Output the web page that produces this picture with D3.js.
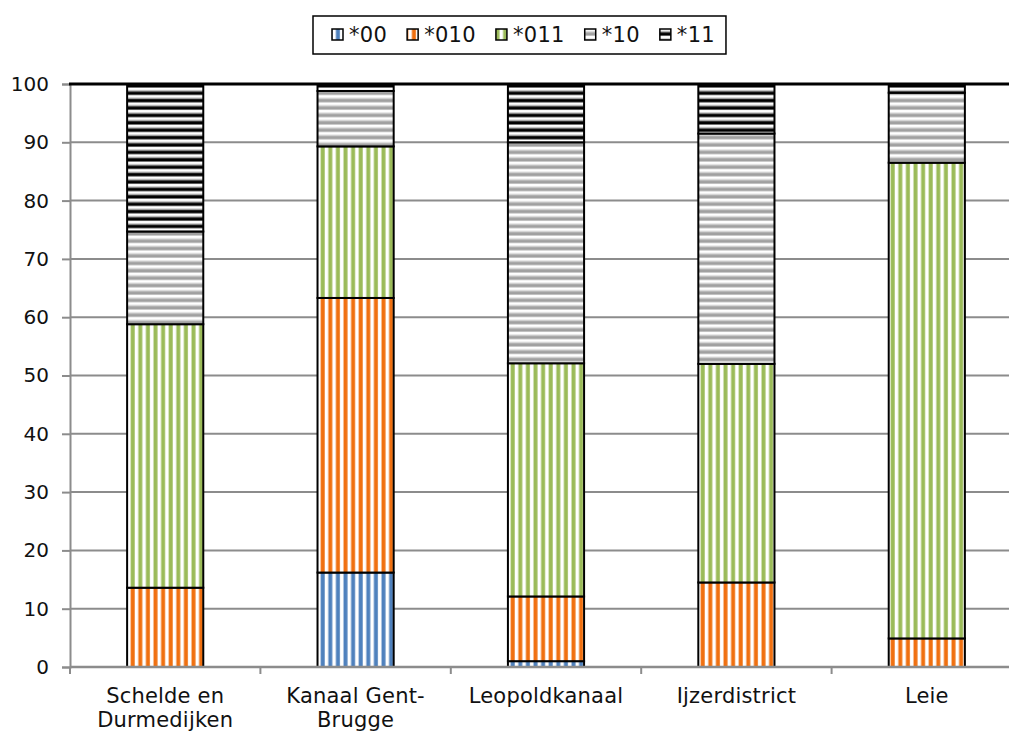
<!DOCTYPE html>
<html>
<head>
<meta charset="utf-8">
<script src="https://cdn.jsdelivr.net/npm/d3@7"></script>
<style>
  html, body { margin: 0; padding: 0; background: #fff; }
  svg { display: block; font-family: "DejaVu Sans", Verdana, sans-serif; }
</style>
</head>
<body>
<svg id="chart" width="1009" height="731"></svg>
<script>
// Category labels (line breaks marked with \n)
const categories = ["Schelde en\nDurmedijken", "Kanaal Gent-\nBrugge", "Leopoldkanaal", "Ijzerdistrict", "Leie"];
// Series keys, in stacking order from bottom to top
const seriesKeys = ["*00", "*010", "*011", "*10", "*11"];
// Share (%) of each series per category
const s00  = [0,    16.2, 1.0,  0,    0];
const s010 = [13.6, 47.1, 11.1, 14.5, 4.9];
const s011 = [45.2, 26.0, 40.0, 37.5, 81.6];
const s10  = [15.9, 9.5,  37.9, 39.5, 12.0];
const s11  = [25.3, 1.2,  10.0, 8.5,  1.5];
const yTicks = [0, 10, 20, 30, 40, 50, 60, 70, 80, 90, 100];

const seriesValues = [s00, s010, s011, s10, s11];
const rows = categories.map((c, i) => {
  const r = { cat: c };
  seriesKeys.forEach((k, j) => r[k] = seriesValues[j][i]);
  return r;
});

const svg = d3.select("#chart");
const W = 1009;
const plot = { left: 70, right: 1022, top: 84, bottom: 667 };

const x = d3.scaleBand().domain(categories).range([plot.left, plot.right])
  .paddingInner(0.6).paddingOuter(0.3);
const y = d3.scaleLinear().domain([0, 100]).range([plot.bottom, plot.top]);

// Stripe fills
const defs = svg.append("defs");
function vStripe(id, color) {
  const p = defs.append("pattern").attr("id", id).attr("patternUnits", "userSpaceOnUse")
    .attr("width", 7.6).attr("height", 10);
  p.append("rect").attr("width", 7.6).attr("height", 10).attr("fill", "#fff");
  p.append("rect").attr("x", 1.5).attr("width", 4).attr("height", 10).attr("fill", color);
}
function hStripe(id, dark, edge) {
  const p = defs.append("pattern").attr("id", id).attr("patternUnits", "userSpaceOnUse")
    .attr("width", 10).attr("height", 7.4);
  p.append("rect").attr("width", 10).attr("height", 7.4).attr("fill", "#fff");
  p.append("rect").attr("y", 1.5).attr("width", 10).attr("height", 1.4).attr("fill", edge);
  p.append("rect").attr("y", 2.9).attr("width", 10).attr("height", 3.2).attr("fill", dark);
}
vStripe("p00", "#4f81bd");
vStripe("p010", "#f07010");
vStripe("p011", "#9bbb59");
hStripe("p10", "#a0a0a0", "#cfcfcf");
hStripe("p11", "#000", "#9a9a9a");
const fillOf = { "*00": "url(#p00)", "*010": "url(#p010)", "*011": "url(#p011)", "*10": "url(#p10)", "*11": "url(#p11)" };

// Gridlines
svg.append("g").selectAll("line").data(yTicks.filter(t => t > 0 && t < 100)).join("line")
  .attr("x1", plot.left).attr("x2", W)
  .attr("y1", d => y(d)).attr("y2", d => y(d))
  .attr("stroke", "#8c8c8c").attr("stroke-width", 2);

// Y axis
const yAxis = svg.append("g").attr("transform", `translate(${plot.left},0)`)
  .call(d3.axisLeft(y).tickValues(yTicks).tickSize(8).tickPadding(13));
yAxis.select(".domain").attr("stroke", "#8c8c8c").attr("stroke-width", 2);
yAxis.selectAll(".tick line").attr("stroke", "#8c8c8c").attr("stroke-width", 2);
yAxis.selectAll(".tick text").attr("font-size", 20).attr("fill", "#111")
  .attr("font-family", "DejaVu Sans, Verdana, sans-serif");

// Stacked bars
const stack = d3.stack().keys(seriesKeys)(rows);
const layers = svg.append("g").selectAll("g").data(stack).join("g")
  .attr("fill", d => fillOf[d.key]);
layers.selectAll("rect").data(d => d.filter(s => s[1] - s[0] > 0)).join("rect")
  .attr("x", d => x(d.data.cat))
  .attr("width", x.bandwidth())
  .attr("y", d => y(d[1]))
  .attr("height", d => y(d[0]) - y(d[1]))
  .attr("stroke", "#000").attr("stroke-width", 2);

// Bottom axis line and category boundary ticks
svg.append("line").attr("x1", plot.left).attr("x2", W)
  .attr("y1", plot.bottom).attr("y2", plot.bottom)
  .attr("stroke", "#8c8c8c").attr("stroke-width", 2.5);
const bounds = categories.map(c => x(c) - x.step() * x.paddingInner() / 2);
bounds.push(plot.right);
svg.append("g").selectAll("line").data(bounds).join("line")
  .attr("x1", d => d).attr("x2", d => d)
  .attr("y1", plot.bottom).attr("y2", plot.bottom + 7)
  .attr("stroke", "#8c8c8c").attr("stroke-width", 2);

// Top border at 100
svg.append("line").attr("x1", plot.left - 1).attr("x2", W)
  .attr("y1", y(100)).attr("y2", y(100))
  .attr("stroke", "#000").attr("stroke-width", 3);

// Category labels
const xl = svg.append("g").attr("font-size", 21).attr("letter-spacing", 0.2)
  .attr("fill", "#111").attr("text-anchor", "middle");
categories.forEach(c => {
  const t = xl.append("text").attr("x", x(c) + x.bandwidth() / 2).attr("y", 703);
  c.split("\n").forEach((line, i) => {
    t.append("tspan").attr("x", x(c) + x.bandwidth() / 2).attr("dy", i === 0 ? 0 : 23.5).text(line);
  });
});

// Legend
const lg = svg.append("g");
const box = lg.append("rect").attr("fill", "#fff").attr("stroke", "#000").attr("stroke-width", 1.5);
let cx = 332;
seriesKeys.forEach(k => {
  lg.append("rect").attr("x", cx).attr("y", 29).attr("width", 11).attr("height", 11)
    .attr("fill", fillOf[k]).attr("stroke", "#000").attr("stroke-width", 1.5);
  const t = lg.append("text").attr("x", cx + 17).attr("y", 42).attr("font-size", 21)
    .attr("letter-spacing", 0.3).attr("fill", "#111").text(k);
  cx += 17 + t.node().getComputedTextLength() + 20;
});
box.attr("x", 313).attr("y", 16).attr("width", cx - 313 - 9).attr("height", 38);
</script>
</body>
</html>
